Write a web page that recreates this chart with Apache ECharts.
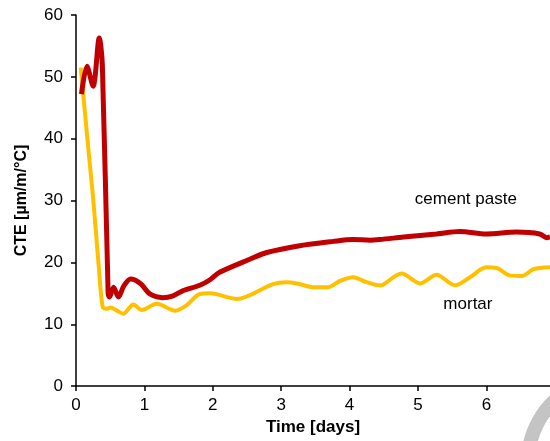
<!DOCTYPE html>
<html><head><meta charset="utf-8">
<script src="https://cdn.jsdelivr.net/npm/echarts@6/dist/echarts.min.js"></script>
<style>html,body{margin:0;padding:0;background:#fff}#c{width:550px;height:441px}</style>
</head><body><div id="c"></div>
<script>
const xTicks = [0,1,2,3,4,5,6];
const yTicks = [0,10,20,30,40,50,60];
const cementX = [0.08,0.16,0.25,0.34,0.385,0.47,0.49,0.55,0.62,0.70,0.80,0.95,1.08,1.27,1.42,1.56,1.81,1.96,2.10,2.54,2.79,3.27,3.76,4.05,4.30,4.44,4.79,5.27,5.61,6.00,6.44,6.78,6.88,6.93];
const cementY = [47.2,51.7,48.5,56.3,52.0,14.9,14.4,16.0,14.4,16.2,17.3,16.5,14.9,14.3,14.6,15.4,16.3,17.2,18.4,20.5,21.6,22.7,23.4,23.7,23.6,23.7,24.1,24.6,25.0,24.6,24.9,24.6,24.0,24.1];
const mortarX = [0.07,0.18,0.25,0.33,0.39,0.45,0.50,0.60,0.69,0.84,0.96,1.18,1.45,1.62,1.81,1.96,2.35,2.88,3.08,3.23,3.47,3.69,3.86,4.05,4.25,4.44,4.49,4.76,5.03,5.27,5.54,5.76,6.00,6.15,6.34,6.52,6.69,6.93];
const mortarY = [51.5,38.4,30.4,19.7,12.8,12.5,12.7,12.2,11.7,13.2,12.3,13.3,12.2,13.1,14.9,15.0,14.1,16.5,16.8,16.6,16.0,16.0,17.0,17.6,16.8,16.3,16.4,18.2,16.6,18.0,16.3,17.6,19.2,19.1,17.9,17.8,18.9,19.2];
const seriesNames = ['cement paste','mortar'];
const labelPos = [[5.70,30.2],[5.73,13.3]];

const zip = (a,b)=>a.map((v,i)=>[v,b[i]]);
const chart = echarts.init(document.getElementById('c'));
const font = 'Liberation Sans, Arial, sans-serif';
const fs = 17;
const mp = (i)=>({symbol:'circle',symbolSize:1,itemStyle:{color:'rgba(0,0,0,0)'},
  data:[{coord:labelPos[i],label:{show:true,position:'inside',formatter:seriesNames[i],color:'#000',fontFamily:font,fontSize:fs}}]});
chart.setOption({
  animation:false,
  grid:{left:76,top:15,right:0,bottom:51,containLabel:false},
  xAxis:{type:'value',min:0,max:6.93,interval:1,
    name:'Time [days]',nameLocation:'middle',nameGap:30,
    nameTextStyle:{fontFamily:font,fontSize:fs,fontWeight:'bold',color:'#000'},
    axisLine:{show:true,onZero:false,lineStyle:{color:'#000',width:1.5}},
    axisTick:{show:true,length:5,inside:false,lineStyle:{color:'#000',width:1.5}},
    axisLabel:{fontFamily:font,fontSize:fs,color:'#000',margin:11,showMaxLabel:false,
      formatter:v=>xTicks.includes(v)?String(v):''},
    splitLine:{show:false}},
  yAxis:{type:'value',min:0,max:60,interval:10,
    name:'CTE [µm/m/°C]',nameLocation:'middle',nameGap:46,nameRotate:90,
    nameTextStyle:{fontFamily:font,fontSize:16,fontWeight:'bold',color:'#000'},
    axisLine:{show:true,lineStyle:{color:'#000',width:1.5}},
    axisTick:{show:true,length:5,lineStyle:{color:'#000',width:1.5}},
    axisLabel:{fontFamily:font,fontSize:fs,color:'#000',margin:13,
      formatter:v=>yTicks.includes(v)?String(v):''},
    splitLine:{show:false}},
  series:[
    {name:seriesNames[0],type:'line',data:zip(cementX,cementY),smooth:0.3,showSymbol:false,
     lineStyle:{color:'#C00000',width:5},itemStyle:{color:'#C00000'},z:3,markPoint:mp(0)},
    {name:seriesNames[1],type:'line',data:zip(mortarX,mortarY),smooth:0.3,showSymbol:false,
     lineStyle:{color:'#FFC000',width:4},itemStyle:{color:'#FFC000'},z:2,markPoint:mp(1)}
  ],
  graphic:[{type:'arc',shape:{cx:612,cy:462,r:84,startAngle:3.2,endAngle:4.1},
    style:{stroke:'#c4c4c4',lineWidth:14,fill:null},silent:true}]
});
</script></body></html>
